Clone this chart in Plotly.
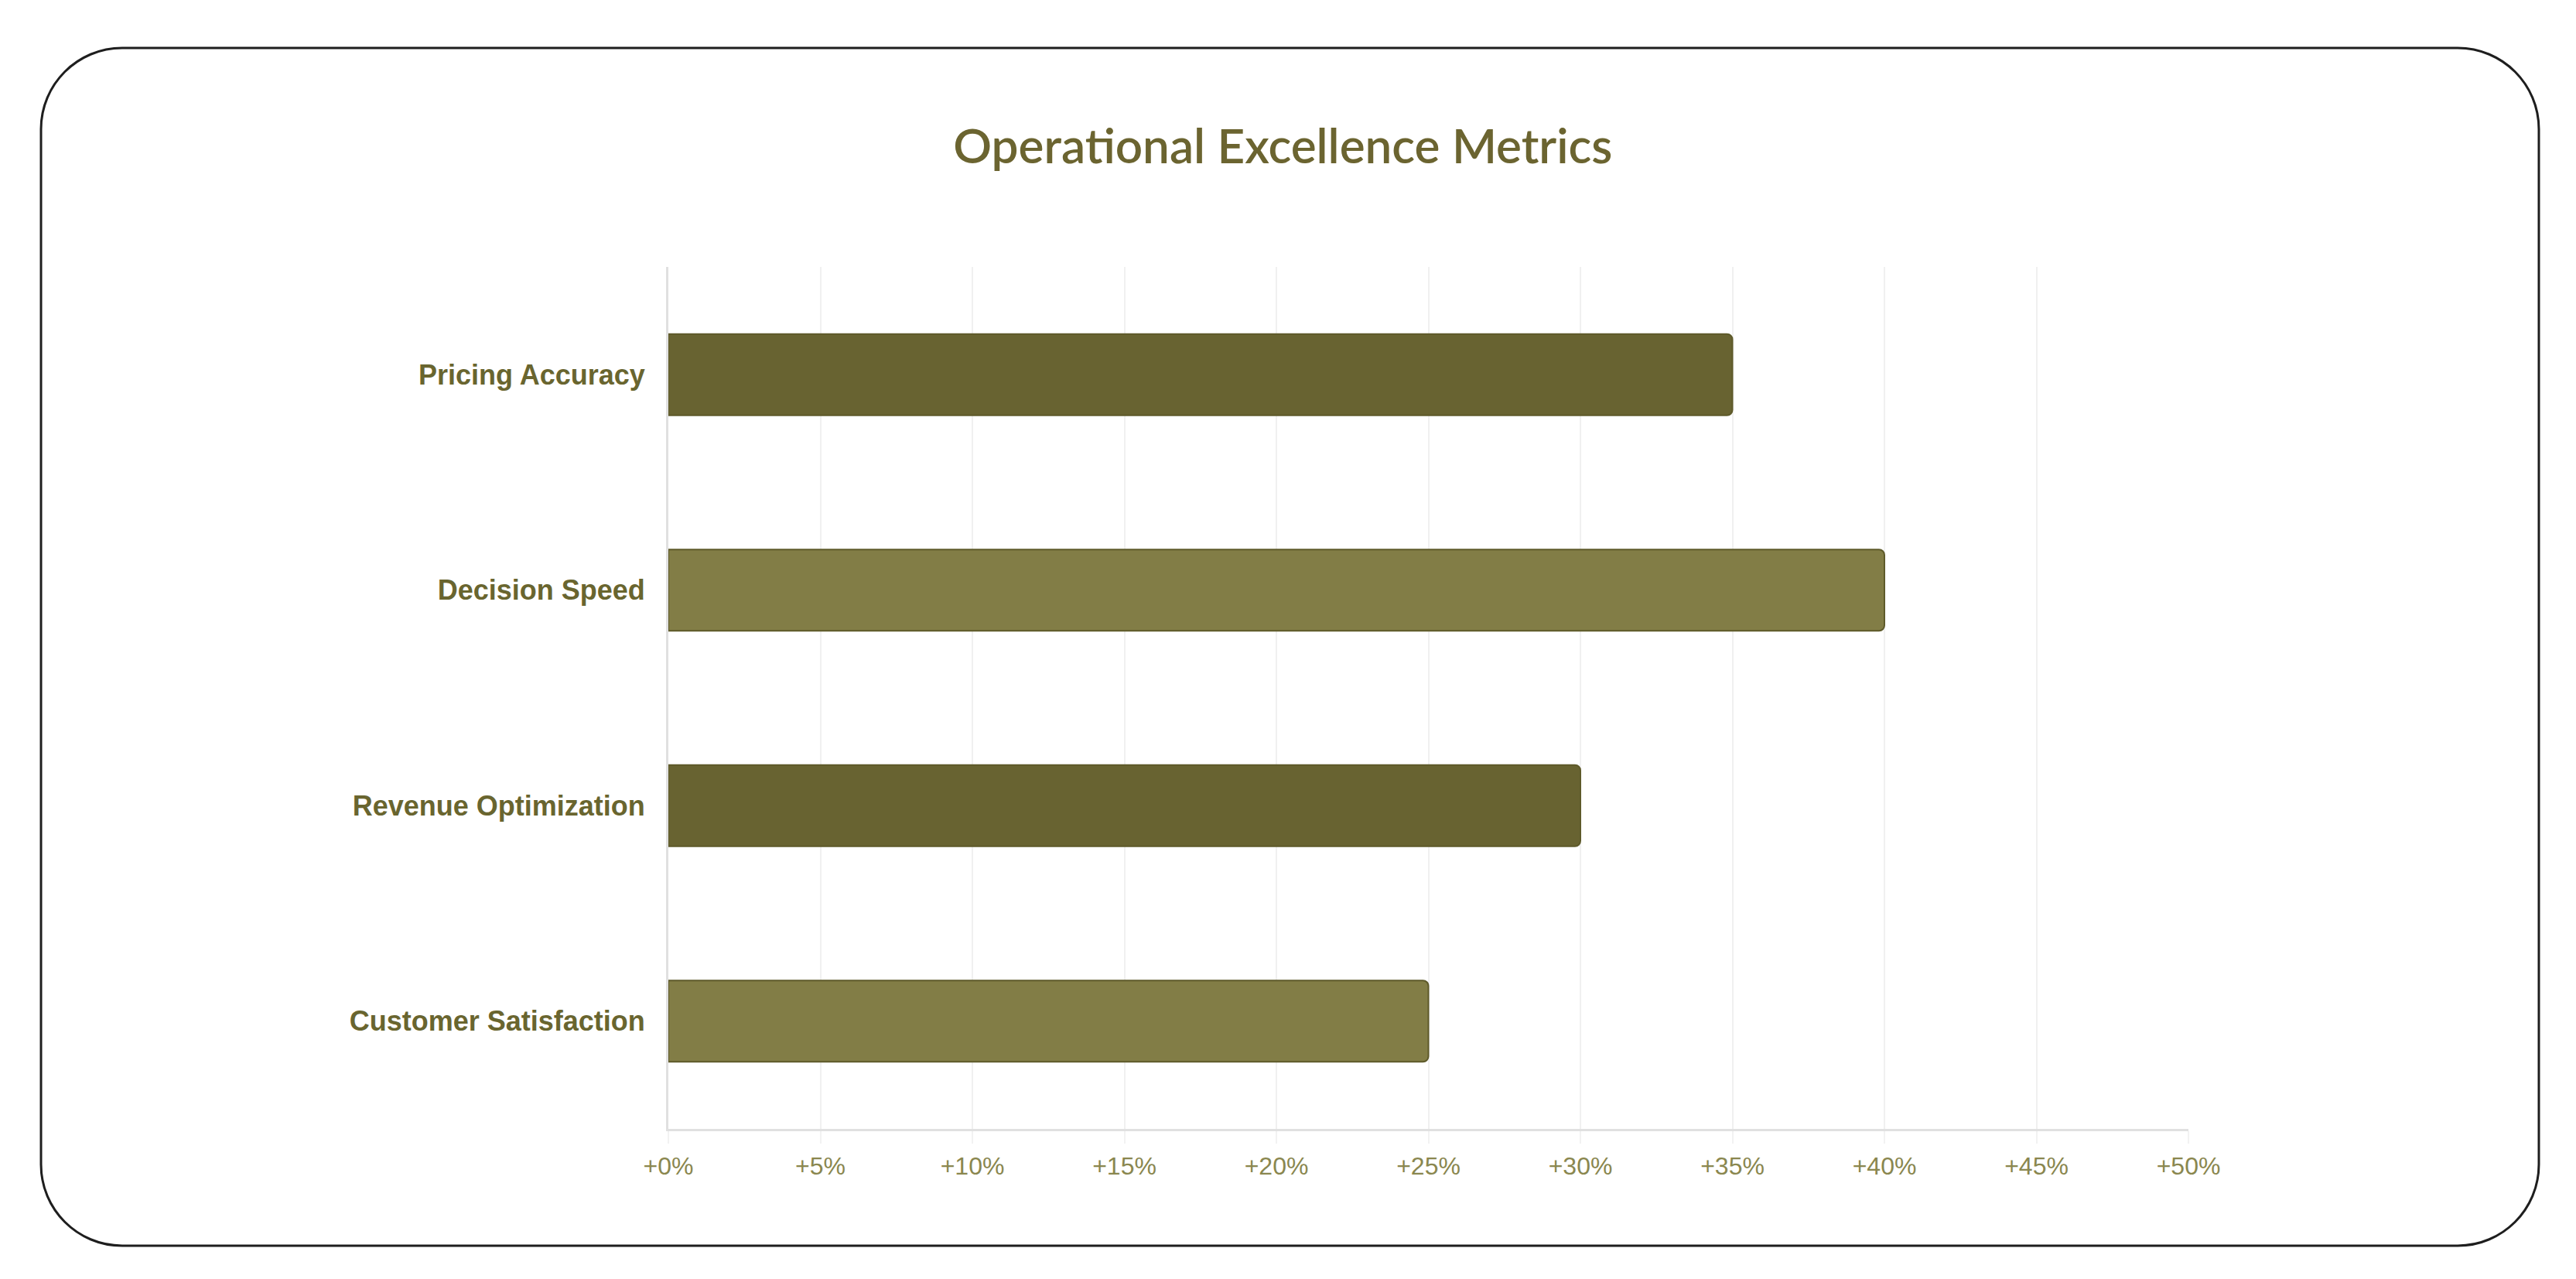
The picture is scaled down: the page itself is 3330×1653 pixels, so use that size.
import plotly.graph_objects as go

# chart data
metrics = ["Pricing Accuracy", "Decision Speed", "Revenue Optimization", "Customer Satisfaction"]
improvement = [35, 40, 30, 25]
bar_colors = ["#686331", "#827d46", "#686331", "#827d46"]

W, H = 3330, 1653
# plot area in page pixels
PL, PR, PT, PB = 864, 2829, 345, 1459


def to_paper(px, py):
    return (px - PL) / (PR - PL), (PB - py) / (PB - PT)


def rounded_rect(x0, y0, x1, y1, r):
    # rounded rectangle as an svg path in paper coords (cubic corners)
    k = 0.5523 * r
    pts = []

    def p(x, y):
        a, b = to_paper(x, y)
        return f"{a:.5f},{b:.5f}"

    pts.append("M" + p(x0 + r, y0))
    pts.append("L" + p(x1 - r, y0))
    pts.append("C" + p(x1 - r + k, y0) + " " + p(x1, y0 + r - k) + " " + p(x1, y0 + r))
    pts.append("L" + p(x1, y1 - r))
    pts.append("C" + p(x1, y1 - r + k) + " " + p(x1 - r + k, y1) + " " + p(x1 - r, y1))
    pts.append("L" + p(x0 + r, y1))
    pts.append("C" + p(x0 + r - k, y1) + " " + p(x0, y1 - r + k) + " " + p(x0, y1 - r))
    pts.append("L" + p(x0, y0 + r))
    pts.append("C" + p(x0, y0 + r - k) + " " + p(x0 + r - k, y0) + " " + p(x0 + r, y0))
    return " ".join(pts) + " Z"


fig = go.Figure()
fig.add_trace(go.Bar(
    x=improvement,
    y=metrics,
    orientation="h",
    marker=dict(color=bar_colors, line=dict(color="#5e5a2a", width=2), cornerradius=7),
    hovertemplate="%{y}: +%{x}%<extra></extra>",
    showlegend=False,
))

fig.update_layout(
    width=W,
    height=H,
    margin=dict(l=PL, r=W - PR, t=PT, b=H - PB, pad=0),
    paper_bgcolor="white",
    plot_bgcolor="white",
    bargap=0.623,
    title=dict(
        text="Operational Excellence Metrics",
        x=0.498, xanchor="center",
        y=1 - 189 / H, yanchor="middle",
        font=dict(family="Lato, Open Sans, sans-serif", size=62, color="#6b6430", weight=600),
    ),
    shapes=[dict(
        type="path", xref="paper", yref="paper",
        path=rounded_rect(53, 62, 3282, 1610, 105),
        line=dict(color="#1e1e1e", width=3),
        fillcolor="rgba(0,0,0,0)",
        layer="below",
    )],
)

fig.update_xaxes(
    range=[0, 50],
    dtick=5,
    tickprefix="+",
    ticksuffix="%",
    showgrid=True,
    gridcolor="#f0f0f0",
    gridwidth=2,
    zeroline=False,
    showline=True,
    linecolor="#e0e0e0",
    linewidth=3,
    ticks="outside",
    ticklen=16,
    tickwidth=2,
    tickcolor="#f2f2f2",
    ticklabelstandoff=2,
    tickfont=dict(family="Liberation Sans Narrow, Arial Narrow, Liberation Sans, sans-serif",
                  size=32, color="#8a874f"),
    fixedrange=True,
)
fig.update_yaxes(
    categoryorder="array",
    categoryarray=metrics,
    autorange="reversed",
    showgrid=False,
    showline=True,
    linecolor="#e0e0e0",
    linewidth=3,
    ticks="",
    ticklabelstandoff=20,
    tickfont=dict(family="Liberation Sans, Arial, sans-serif", size=36, color="#69652f", weight="bold"),
    fixedrange=True,
)

fig.write_html(
    "out.html",
    config={"displayModeBar": False},
    post_script="document.body.style.margin='0';document.body.style.overflow='hidden';",
)
